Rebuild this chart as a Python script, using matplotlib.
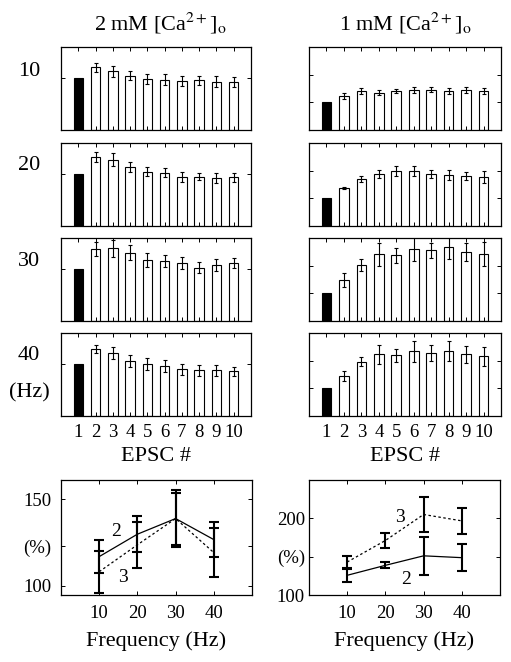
import matplotlib
matplotlib.use('Agg')
import matplotlib.pyplot as plt
import numpy as np

plt.rcParams['font.family'] = ['Liberation Serif', 'DejaVu Serif']
plt.rcParams['mathtext.fontset'] = 'stix'

# EPSC amplitudes (% of EPSC 1), 2 mM Ca
epsc = np.arange(1, 11)
hz10_2mM = [100, 121, 113, 105, 98, 97, 95, 96, 93, 92]
hz10_2mM_err = [0, 9, 11, 9, 10, 11, 10, 9, 11, 10]
hz20_2mM = [100, 133, 128, 114, 105, 103, 95, 95, 93, 94]
hz20_2mM_err = [0, 9, 12, 9, 9, 9, 10, 7, 10, 9]
hz30_2mM = [100, 139, 140, 132, 118, 116, 112, 103, 108, 112]
hz30_2mM_err = [0, 14, 16, 14, 14, 12, 12, 10, 12, 9]
hz40_2mM = [100, 129, 121, 106, 100, 96, 90, 88, 88, 86]
hz40_2mM_err = [0, 8, 12, 12, 11, 11, 10, 10, 10, 8]

# 1 mM Ca
hz10_1mM = [100, 123, 141, 135, 141, 145, 146, 141, 146, 141]
hz10_1mM_err = [0, 10, 10, 9, 9, 10, 10, 10, 11, 12]
hz20_1mM = [100, 137, 170, 188, 199, 199, 187, 184, 181, 177]
hz20_1mM_err = [0, 3, 11, 16, 17, 19, 14, 18, 15, 20]
hz30_1mM = [100, 148, 202, 241, 237, 260, 255, 266, 249, 241]
hz30_1mM_err = [0, 26, 21, 41, 26, 43, 27, 43, 33, 43]
hz40_1mM = [100, 146, 196, 223, 219, 234, 228, 234, 223, 216]
hz40_1mM_err = [0, 18, 17, 34, 24, 38, 28, 36, 31, 34]

# summary: EPSC2 and EPSC3 vs frequency
freqs = [10, 20, 30, 40]
sum2_2mM = [116.9, 129.8, 138.8, 126.7]
sum2_2mM_err = [9.7, 10.3, 16.3, 10.2]
sum3_2mM = [108.2, 123.7, 138.8, 119.2]
sum3_2mM_err = [12.1, 13.1, 15.0, 14.3]
sum2_1mM = [125.7, 138.7, 151.1, 148.7]
sum2_1mM_err = [8.3, 3.9, 25.0, 17.4]
sum3_1mM = [143.0, 171.1, 205.0, 196.7]
sum3_1mM_err = [8.0, 10.2, 22.4, 17.2]

row_labels = ['10', '20', '30', '40']

W, H = 511, 662
fig = plt.figure(figsize=(W / 100, H / 100), dpi=100)


def ax_px(x0, y0, x1, y1):
    return fig.add_axes([x0 / W, 1 - y1 / H, (x1 - x0) / W, (y1 - y0) / H])


rows_y = [(47, 130), (143, 226), (238, 321), (333, 416)]
left_data = [(hz10_2mM, hz10_2mM_err), (hz20_2mM, hz20_2mM_err),
             (hz30_2mM, hz30_2mM_err), (hz40_2mM, hz40_2mM_err)]
right_data = [(hz10_1mM, hz10_1mM_err), (hz20_1mM, hz20_1mM_err),
              (hz30_1mM, hz30_1mM_err), (hz40_1mM, hz40_1mM_err)]


def bar_panel(ax, vals, errs, ymax, yticks, last):
    colors = ['black'] + ['white'] * 9
    ax.bar(epsc, vals, width=0.55, color=colors, edgecolor='black', linewidth=0.8)
    ax.errorbar(epsc[1:], vals[1:], yerr=errs[1:], fmt='none', ecolor='black',
                elinewidth=0.8, capsize=1.7, capthick=0.8)
    ax.set_xlim(0, 11)
    ax.set_ylim(0, ymax)
    ax.set_yticks(yticks)
    ax.set_yticklabels([])
    ax.set_xticks(epsc)
    ax.tick_params(direction='in', top=True, right=True, length=3, width=0.7,
                   labelsize=13.5, pad=6)
    if last:
        ax.set_xticklabels([str(i) for i in epsc])
        ax.set_xlabel('EPSC #', fontsize=16, labelpad=4)
    else:
        ax.set_xticklabels([])
    for s in ax.spines.values():
        s.set_linewidth(0.9)


for i, (y0, y1) in enumerate(rows_y):
    axl = ax_px(61, y0, 251, y1)
    bar_panel(axl, left_data[i][0], left_data[i][1], 160, [100], i == 3)
    axr = ax_px(309, y0, 501, y1)
    bar_panel(axr, right_data[i][0], right_data[i][1], 300, [100, 200], i == 3)

# row labels and column titles
for lab, yc in zip(row_labels, [71, 166, 261, 356]):
    fig.text(29 / W, 1 - yc / H, lab, ha='center', va='center', fontsize=16)
fig.text(29 / W, 1 - 393 / H, '(Hz)', ha='center', va='center', fontsize=16)
fig.text(160 / W, 1 - 23 / H, r'2 mM [Ca$^{2+}$]$_\mathrm{o}$', ha='center',
         va='center', fontsize=16)
fig.text(405 / W, 1 - 23 / H, r'1 mM [Ca$^{2+}$]$_\mathrm{o}$', ha='center',
         va='center', fontsize=16)


def summary_panel(ax, s2, e2, s3, e3, ylim, yticks, ylabels, pad):
    ax.plot(freqs, s2, color='black', lw=0.9)
    ax.plot(freqs, s3, color='black', lw=0.9, linestyle=(0, (2, 2)))
    ax.errorbar(freqs, s2, yerr=e2, fmt='none', ecolor='black', elinewidth=1.5,
                capsize=3.4, capthick=1.5)
    ax.errorbar(freqs, s3, yerr=e3, fmt='none', ecolor='black', elinewidth=1.5,
                capsize=3.4, capthick=1.5)
    ax.set_xlim(0, 50)
    ax.set_ylim(*ylim)
    ax.set_xticks(freqs)
    ax.set_yticks(yticks)
    ax.set_yticklabels(ylabels)
    ax.tick_params(direction='in', top=True, right=True, length=3, width=0.7,
                   labelsize=13.5)
    ax.tick_params(axis='y', pad=pad)
    ax.tick_params(axis='x', pad=7)
    ax.set_xlabel('Frequency (Hz)', fontsize=16, labelpad=7)
    for s in ax.spines.values():
        s.set_linewidth(0.9)


axb1 = ax_px(61, 480, 252, 595)
summary_panel(axb1, sum2_2mM, sum2_2mM_err, sum3_2mM, sum3_2mM_err,
              (94.8, 161), [100, 123, 150], ['100', '(%)', '150'], 7)
axb1.text(14.3, 131.4, '2', fontsize=14, ha='center', va='center')
axb1.text(16.1, 104.7, '3', fontsize=14, ha='center', va='center')

axb2 = ax_px(309, 480, 500, 595)
summary_panel(axb2, sum2_1mM, sum2_1mM_err, sum3_1mM, sum3_1mM_err,
              (100, 250), [100, 150, 200], ['100', '(%)', '200'], 3)
axb2.text(23.7, 201.7, '3', fontsize=14, ha='center', va='center')
axb2.text(25.5, 119.6, '2', fontsize=14, ha='center', va='center')

fig.savefig('out.png', dpi=100)
